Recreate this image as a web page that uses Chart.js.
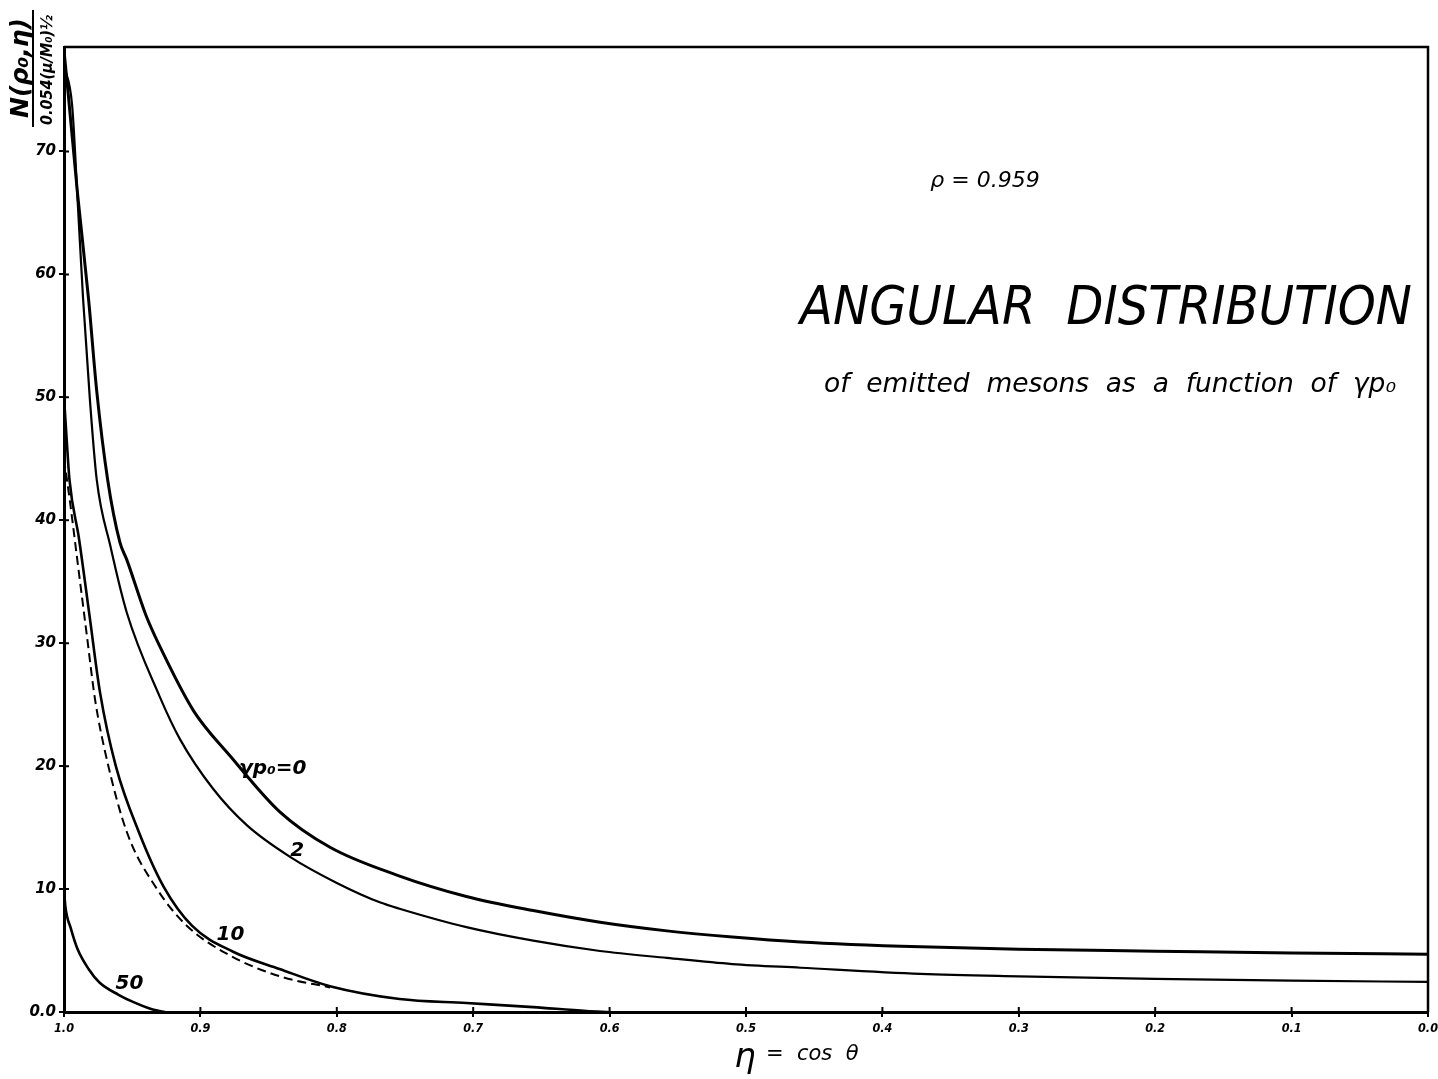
<!DOCTYPE html>
<html><head><meta charset="utf-8">
<script src="https://cdn.jsdelivr.net/npm/chart.js@4.4.1/dist/chart.umd.min.js"></script>
<style>html,body{margin:0;padding:0;background:#fff;overflow:hidden}#wrap{width:1438px;height:1079px;position:relative}</style>
</head><body><div id="wrap"><canvas id="c"></canvas></div>
<script>
// ---- data ----
const xTickValues = [1.0, 0.9, 0.8, 0.7, 0.6, 0.5, 0.4, 0.3, 0.2, 0.1, 0.0];
const yTickValues = [0, 10, 20, 30, 40, 50, 60, 70];

// gamma p0 = 0
const eta0 = [1.0, 0.997, 0.99, 0.982, 0.976, 0.968, 0.959, 0.954, 0.94, 0.93, 0.905, 0.878, 0.842, 0.805, 0.755, 0.705, 0.656, 0.607, 0.558, 0.51, 0.46, 0.372, 0.3, 0.2, 0.1, 0.0];
const n0   = [78.2, 74.8, 66.5, 58.0, 50.5, 43.3, 38.2, 36.8, 32.3, 29.8, 24.5, 20.8, 16.3, 13.4, 11.1, 9.4, 8.25, 7.3, 6.6, 6.1, 5.7, 5.3, 5.1, 4.95, 4.8, 4.7];
// gamma p0 = 2
const eta2 = [1.0, 0.994, 0.99, 0.986, 0.981, 0.976, 0.966, 0.954, 0.93, 0.915, 0.891, 0.866, 0.834, 0.80, 0.768, 0.754, 0.705, 0.656, 0.607, 0.558, 0.51, 0.46, 0.372, 0.3, 0.2, 0.1, 0.0];
const n2   = [77.0, 73.7, 66.0, 58.0, 49.8, 43.3, 37.9, 32.5, 25.7, 22.2, 18.2, 15.2, 12.6, 10.5, 8.9, 8.4, 6.9, 5.8, 4.96, 4.4, 3.9, 3.6, 3.1, 2.9, 2.7, 2.55, 2.45];
// gamma p0 = 10 (solid)
const eta10 = [1.0, 0.998, 0.996, 0.989, 0.981, 0.9736, 0.962, 0.945, 0.927, 0.906, 0.876, 0.842, 0.805, 0.754, 0.705, 0.656, 0.617, 0.6];
const n10   = [50.0, 46.5, 43.3, 38.5, 32.0, 26.0, 20.0, 14.6, 10.2, 7.0, 4.9, 3.5, 2.1, 1.06, 0.73, 0.4, 0.08, 0.0];
// gamma p0 = 10 (dashed)
const eta10d = [1.0, 0.9956, 0.9905, 0.9831, 0.9772, 0.9685, 0.9538, 0.9318, 0.9098, 0.8783, 0.8416, 0.805];
const n10d   = [45.0, 41.5, 37.0, 30.5, 25.4, 20.5, 14.6, 10.0, 7.0, 4.6, 2.9, 2.0];
// gamma p0 = 50
const eta50 = [1.0, 0.999, 0.995, 0.99, 0.982, 0.974, 0.96, 0.949, 0.935, 0.926];
const n50   = [10.0, 8.6, 6.8, 5.1, 3.5, 2.4, 1.4, 0.8, 0.2, 0.0];

const curveLabels = ['γp₀=0', '2', '10', '50'];
const curveLabelEta = [0.847, 0.829, 0.878, 0.952];
const curveLabelN = [19.8, 13.1, 6.3, 2.3];

const pts = (xs, ys) => xs.map((x, i) => ({x: x, y: ys[i]}));
const ds = (label, xs, ys, w, dash) => ({
  label, data: pts(xs, ys), borderColor: '#000', borderWidth: w, borderDash: dash || [],
  pointRadius: 0, fill: false, cubicInterpolationMode: 'monotone'
});

const FONT = '"DejaVu Sans", sans-serif';
const TICKFONT = '"DejaVu Sans Condensed", "DejaVu Sans", sans-serif';

const annot = {
  id: 'annot',
  afterDraw(chart) {
    const ctx = chart.ctx, ca = chart.chartArea, xs = chart.scales.x, ys = chart.scales.y;
    ctx.save();
    ctx.strokeStyle = '#000'; ctx.lineWidth = 2.5;
    ctx.beginPath(); ctx.moveTo(ca.left, ca.top); ctx.lineTo(ca.right, ca.top); ctx.lineTo(ca.right, ca.bottom); ctx.stroke();
    // inner halves of the tick marks (ticks cross the axes)
    ctx.lineWidth = 2;
    ctx.beginPath();
    xTickValues.forEach(v => { const p = xs.getPixelForValue(v); ctx.moveTo(p, ca.bottom); ctx.lineTo(p, ca.bottom - 5); });
    yTickValues.forEach(v => { const p = ys.getPixelForValue(v); ctx.moveTo(ca.left, p); ctx.lineTo(ca.left + 5, p); });
    ctx.stroke();
    ctx.fillStyle = '#000';
    ctx.textAlign = 'center'; ctx.textBaseline = 'middle';
    ctx.font = 'italic 22px ' + FONT;
    ctx.fillText('ρ = 0.959', 985, 181);
    ctx.font = 'italic 54px ' + FONT;
    ctx.fillText('ANGULAR  DISTRIBUTION', 1106, 310, 612);
    ctx.font = 'italic 26.5px ' + FONT;
    ctx.fillText('of  emitted  mesons  as  a  function  of  γp₀', 1110, 385, 572);
    // curve labels
    ctx.font = 'bold italic 20px ' + FONT;
    curveLabels.forEach((t, i) => {
      ctx.fillText(t, xs.getPixelForValue(curveLabelEta[i]), ys.getPixelForValue(curveLabelN[i]));
    });
    // x title
    ctx.font = 'italic 34px ' + FONT;
    ctx.fillText('η', 745, 1058);
    ctx.textAlign = 'left';
    ctx.font = 'italic 21px ' + FONT;
    ctx.fillText('=  cos  θ', 766, 1055);
    // y title (fraction, rotated)
    ctx.save();
    ctx.translate(21, 68); ctx.rotate(-Math.PI / 2);
    ctx.textAlign = 'center';
    ctx.font = 'bold italic 25px ' + FONT;
    ctx.fillText('N(ρ₀,η)', 0, 0, 116);
    ctx.restore();
    ctx.beginPath(); ctx.lineWidth = 2; ctx.moveTo(33, 10); ctx.lineTo(33, 127); ctx.stroke();
    ctx.save();
    ctx.translate(48, 70); ctx.rotate(-Math.PI / 2);
    ctx.textAlign = 'center';
    ctx.font = 'bold italic 15px ' + FONT;
    ctx.fillText('0.054(μ/M₀)½', 0, 0, 110);
    ctx.restore();
    ctx.restore();
  }
};

new Chart(document.getElementById('c'), {
  type: 'line',
  data: {
    datasets: [
      ds('γp₀=0', eta0, n0, 3),
      ds('2', eta2, n2, 2.2),
      ds('10', eta10, n10, 2.6),
      ds('10 (dashed)', eta10d, n10d, 2, [9, 5]),
      ds('50', eta50, n50, 2.6)
    ]
  },
  options: {
    responsive: true, maintainAspectRatio: false, animation: false,
    layout: {padding: {top: 47, right: 10, left: 0, bottom: 0}},
    plugins: {legend: {display: false}, tooltip: {enabled: false}},
    scales: {
      x: {
        type: 'linear', min: 0, max: 1, reverse: true,
        afterBuildTicks: s => { s.ticks = xTickValues.map(v => ({value: v})); },
        afterFit: s => { s.height = 67; s.paddingLeft = 0; s.paddingRight = 0; },
        ticks: {color: '#000', font: {family: TICKFONT, size: 12.5, style: 'italic', weight: 'bold'}, maxRotation: 0, autoSkip: false, padding: 4,
          callback: v => Number(v).toFixed(1)},
        grid: {display: true, drawOnChartArea: false, drawTicks: true, tickLength: 5, color: '#000', lineWidth: 2},
        border: {display: true, color: '#000', width: 3}
      },
      y: {
        type: 'linear', min: 0, max: 78.5,
        afterBuildTicks: s => { s.ticks = yTickValues.map(v => ({value: v})); },
        afterFit: s => { s.width = 64; s.paddingTop = 0; s.paddingBottom = 0; },
        ticks: {color: '#000', font: {family: FONT, size: 15, style: 'italic', weight: 'bold'}, padding: 3,
          callback: v => v === 0 ? '0.0' : String(v)},
        grid: {display: true, drawOnChartArea: false, drawTicks: true, tickLength: 5, color: '#000', lineWidth: 2},
        border: {display: true, color: '#000', width: 3}
      }
    }
  },
  plugins: [annot]
});
</script>
</body></html>
